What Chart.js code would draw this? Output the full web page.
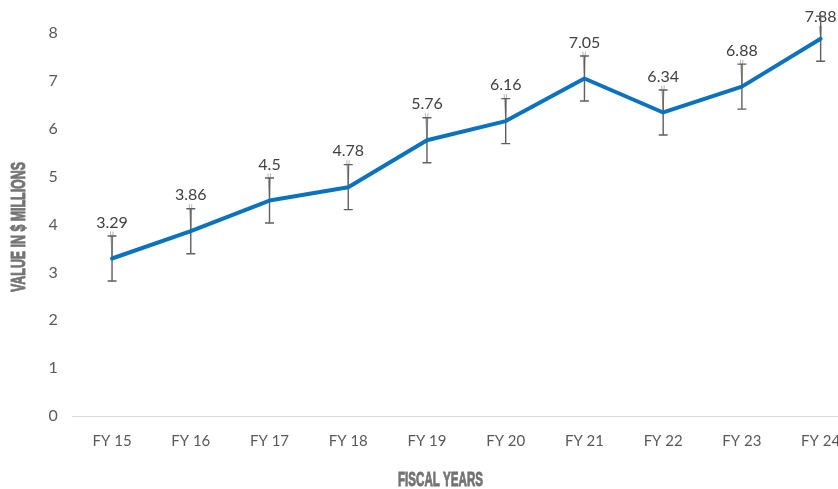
<!DOCTYPE html>
<html>
<head>
<meta charset="utf-8">
<script src="https://cdn.jsdelivr.net/npm/chart.js@4/dist/chart.umd.min.js"></script>
<style>
  html, body { margin: 0; padding: 0; background: #fff; overflow: hidden; }
  #wrap { width: 860px; height: 489px; }
</style>
</head>
<body>
<div id="wrap"><canvas id="c" width="860" height="489"></canvas></div>
<script>
const categories = ['FY 15', 'FY 16', 'FY 17', 'FY 18', 'FY 19', 'FY 20', 'FY 21', 'FY 22', 'FY 23', 'FY 24'];
const values = [3.29, 3.86, 4.5, 4.78, 5.76, 6.16, 7.05, 6.34, 6.88, 7.88];
const errors = [0.47, 0.47, 0.47, 0.47, 0.47, 0.47, 0.47, 0.47, 0.47, 0.47];
const dataLabels = ['3.29', '3.86', '4.5', '4.78', '5.76', '6.16', '7.05', '6.34', '6.88', '7.88'];
const yAxisTitle = 'VALUE IN $ MILLIONS';
const xAxisTitle = 'FISCAL YEARS';

const LABEL_FONT = '16px Lato';
const TITLE_FONT = 'bold 21px "Liberation Sans", Arial, sans-serif';

function drawCondensed(ctx, text, cx, cy, targetWidth, rot) {
  ctx.save();
  ctx.translate(cx, cy);
  if (rot) ctx.rotate(rot);
  const w = ctx.measureText(text).width;
  ctx.scale(targetWidth / w, 1);
  ctx.lineWidth = 0.9;
  ctx.strokeText(text, 0, 0);
  ctx.fillText(text, 0, 0);
  ctx.restore();
}

const decorPlugin = {
  id: 'decor',
  beforeDatasetsDraw(chart) {
    const ctx = chart.ctx;
    const meta = chart.getDatasetMeta(0);
    const y = chart.scales.y;
    ctx.save();
    ctx.font = LABEL_FONT;
    ctx.fillStyle = '#404040';
    ctx.textAlign = 'center';
    ctx.textBaseline = 'middle';
    meta.data.forEach((pt, i) => {
      const ly = Math.max(pt.y - 36, 17);
      ctx.fillText(dataLabels[i], pt.x, ly);
      ctx.strokeStyle = '#b5b5b5';
      ctx.lineWidth = 1;
      ctx.beginPath();
      ctx.moveTo(pt.x - 1.5, ly + 9);
      ctx.lineTo(pt.x, pt.y);
      ctx.lineTo(pt.x + 1, ly + 9);
      ctx.stroke();
    });
    ctx.strokeStyle = '#5f5f5f';
    ctx.lineWidth = 1.4;
    meta.data.forEach((pt, i) => {
      const top = y.getPixelForValue(values[i] + errors[i]);
      const bot = y.getPixelForValue(values[i] - errors[i]);
      ctx.beginPath();
      ctx.moveTo(pt.x, top); ctx.lineTo(pt.x, bot);
      ctx.moveTo(pt.x - 4.5, top); ctx.lineTo(pt.x + 4.5, top);
      ctx.moveTo(pt.x - 4.5, bot); ctx.lineTo(pt.x + 4.5, bot);
      ctx.stroke();
    });
    ctx.restore();
  },
  afterDraw(chart) {
    const ctx = chart.ctx;
    ctx.save();
    ctx.font = TITLE_FONT;
    ctx.fillStyle = '#737373';
    ctx.strokeStyle = '#737373';
    ctx.textAlign = 'center';
    ctx.textBaseline = 'middle';
    drawCondensed(ctx, xAxisTitle, 440.5, 480, 85, 0);
    drawCondensed(ctx, yAxisTitle, 19, 227, 130, -Math.PI / 2);
    ctx.restore();
  }
};

new Chart(document.getElementById('c'), {
  type: 'line',
  data: {
    labels: categories,
    datasets: [{
      data: values,
      borderColor: '#0B72BD',
      borderWidth: 4,
      pointRadius: 0,
      pointHoverRadius: 0,
      tension: 0,
      fill: false,
      borderJoinStyle: 'round',
      borderCapStyle: 'round',
      clip: false
    }]
  },
  options: {
    responsive: false,
    animation: false,
    events: [],
    layout: { padding: { top: 33, left: 0, right: 0, bottom: 0 } },
    plugins: { legend: { display: false }, tooltip: { enabled: false } },
    scales: {
      x: {
        offset: true,
        grid: { display: false, drawTicks: false },
        border: { display: true, color: '#d9d9d9', width: 1 },
        ticks: { color: '#595959', font: { family: 'Lato', size: 15 }, padding: 16, maxRotation: 0, autoSkip: false },
        afterFit(s) { s.height = 73; }
      },
      y: {
        min: 0,
        max: 8,
        ticks: { stepSize: 1, color: '#595959', font: { family: 'Lato', size: 16 }, padding: 15 },
        grid: { drawTicks: false, color: (c) => (c.tick && c.tick.value === 0 ? '#d9d9d9' : 'rgba(0,0,0,0)') },
        border: { display: false },
        afterFit(s) { s.width = 72.67; }
      }
    }
  },
  plugins: [decorPlugin]
});
</script>
</body>
</html>
